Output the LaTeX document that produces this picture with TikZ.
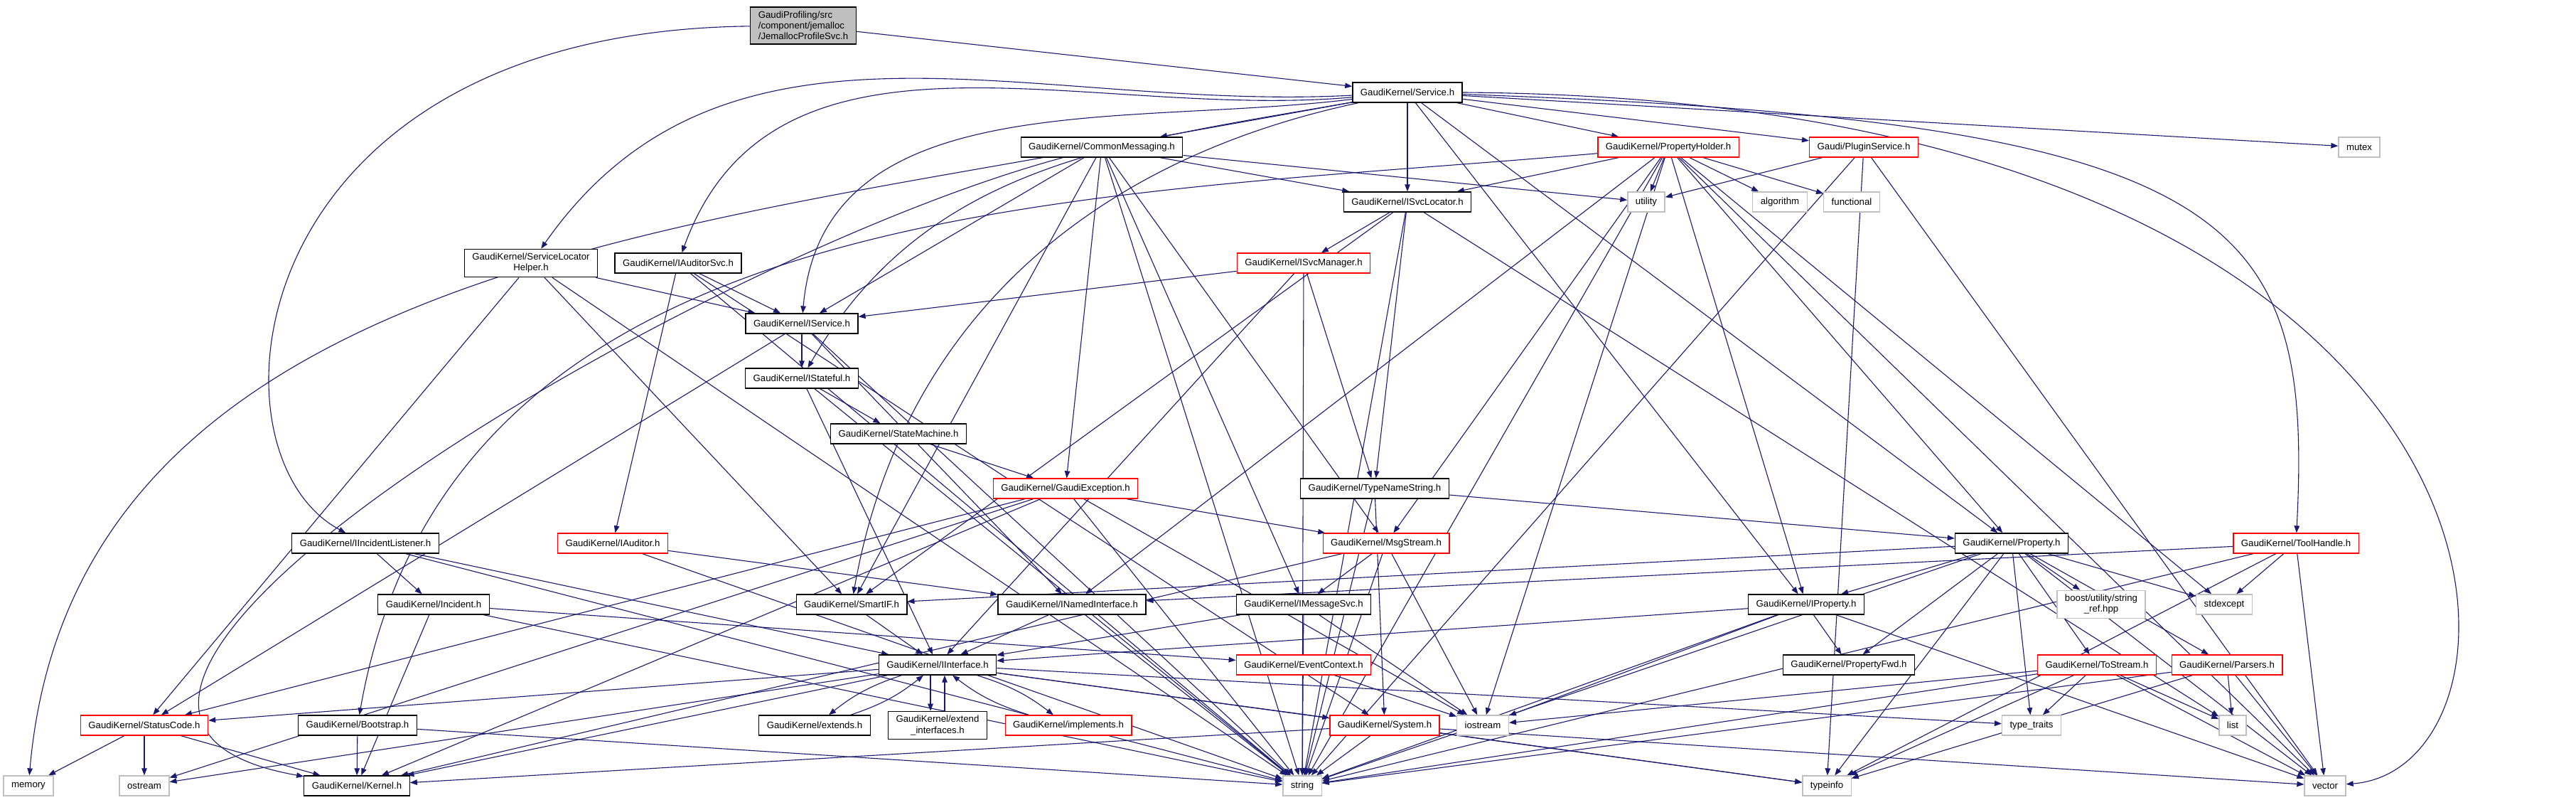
\documentclass[tikz,border=0pt]{standalone}
\usepackage{fontspec}
\setmainfont{Liberation Sans}
\usetikzlibrary{arrows.meta,backgrounds}
\newcommand{\pxlen}{0.1mm}
\definecolor{edgeblue}{HTML}{191970}
\definecolor{sysgrey}{HTML}{BFBFBF}

\begin{document}
\begin{tikzpicture}
\useasboundingbox (0,0) rectangle (3624*\pxlen,-1125*\pxlen);
\tikzstyle{every node}=[draw,
			rectangle,
			fill=white,
			font=\fontsize{3.76}{4.3}\selectfont,
			minimum height = 2.8mm,
			inner xsep = 1.1mm,
			inner ysep = 0.6mm,
			line width = 0.13mm
			]
\tikzstyle{redbox}=[draw=red]
\tikzstyle{sysbox}=[draw=sysgrey]
\tikzstyle{dep}=[edgeblue, line width=0.11mm, -{Triangle[length=1.0mm,width=0.75mm]}]

\node[fill=sysgrey, align=left] (root) at (1130*\pxlen,-36*\pxlen) {GaudiProfiling/src\\/component/jemalloc\\/JemallocProfileSvc.h};

\node (svc) at (1980*\pxlen,-130*\pxlen) {GaudiKernel/Service.h};

\node (cmsg) at (1550*\pxlen,-207*\pxlen) {GaudiKernel/CommonMessaging.h};
\node[redbox] (pholder) at (2347*\pxlen,-207*\pxlen) {GaudiKernel/PropertyHolder.h};
\node[redbox] (plugin) at (2622*\pxlen,-207*\pxlen) {Gaudi/PluginService.h};
\node[sysbox] (mutex) at (3319*\pxlen,-207*\pxlen) {mutex};

\node (isvcloc) at (1980*\pxlen,-284*\pxlen) {GaudiKernel/ISvcLocator.h};
\node[sysbox] (utility) at (2316*\pxlen,-284*\pxlen) {utility};
\node[sysbox] (algorithm) at (2504*\pxlen,-284*\pxlen) {algorithm};
\node[sysbox] (functional) at (2605*\pxlen,-284*\pxlen) {functional};

\node[align=center] (slh) at (747*\pxlen,-370*\pxlen) {GaudiKernel/ServiceLocator\\Helper.h};
\node (iaudsvc) at (954*\pxlen,-370*\pxlen) {GaudiKernel/IAuditorSvc.h};
\node[redbox] (isvcmgr) at (1834*\pxlen,-370*\pxlen) {GaudiKernel/ISvcManager.h};

\node (iservice) at (1128*\pxlen,-455*\pxlen) {GaudiKernel/IService.h};
\node (istateful) at (1128*\pxlen,-532*\pxlen) {GaudiKernel/IStateful.h};
\node (statem) at (1264*\pxlen,-610*\pxlen) {GaudiKernel/StateMachine.h};

\node[redbox] (gexc) at (1499*\pxlen,-687*\pxlen) {GaudiKernel/GaudiException.h};
\node (tns) at (1934*\pxlen,-687*\pxlen) {GaudiKernel/TypeNameString.h};

\node (incl) at (514*\pxlen,-764*\pxlen) {GaudiKernel/IIncidentListener.h};
\node[redbox] (iaud) at (862*\pxlen,-764*\pxlen) {GaudiKernel/IAuditor.h};
\node[redbox] (msgs) at (1950*\pxlen,-764*\pxlen) {GaudiKernel/MsgStream.h};
\node (prop) at (2830*\pxlen,-764*\pxlen) {GaudiKernel/Property.h};
\node[redbox] (toolh) at (3230*\pxlen,-764*\pxlen) {GaudiKernel/ToolHandle.h};

\node (incid) at (610*\pxlen,-850*\pxlen) {GaudiKernel/Incident.h};
\node (smartif) at (1198*\pxlen,-850*\pxlen) {GaudiKernel/SmartIF.h};
\node (inamed) at (1508*\pxlen,-850*\pxlen) {GaudiKernel/INamedInterface.h};
\node (imsg) at (1834*\pxlen,-850*\pxlen) {GaudiKernel/IMessageSvc.h};
\node (iprop) at (2541*\pxlen,-850*\pxlen) {GaudiKernel/IProperty.h};
\node[sysbox, align=center] (boostsr) at (2956*\pxlen,-850*\pxlen) {boost/utility/string\\\_ref.hpp};
\node[sysbox] (stdexc) at (3129*\pxlen,-850*\pxlen) {stdexcept};

\node (iintf) at (1319*\pxlen,-935*\pxlen) {GaudiKernel/IInterface.h};
\node[redbox] (evctx) at (1834*\pxlen,-935*\pxlen) {GaudiKernel/EventContext.h};
\node (propfwd) at (2601*\pxlen,-935*\pxlen) {GaudiKernel/PropertyFwd.h};
\node[redbox] (tostr) at (2950*\pxlen,-935*\pxlen) {GaudiKernel/ToStream.h};
\node[redbox] (parsers) at (3133*\pxlen,-935*\pxlen) {GaudiKernel/Parsers.h};

\node[redbox] (stcode) at (203*\pxlen,-1020*\pxlen) {GaudiKernel/StatusCode.h};
\node (boot) at (503*\pxlen,-1020*\pxlen) {GaudiKernel/Bootstrap.h};
\node (extends) at (1146*\pxlen,-1020*\pxlen) {GaudiKernel/extends.h};
\node[align=center] (extintf) at (1319*\pxlen,-1020*\pxlen) {GaudiKernel/extend\\\_interfaces.h};
\node[redbox] (impl) at (1503*\pxlen,-1020*\pxlen) {GaudiKernel/implements.h};
\node[redbox] (system) at (1948*\pxlen,-1020*\pxlen) {GaudiKernel/System.h};
\node[sysbox] (iostream) at (2086*\pxlen,-1020*\pxlen) {iostream};
\node[sysbox] (typetr) at (2858*\pxlen,-1020*\pxlen) {type\_traits};
\node[sysbox] (list) at (3141*\pxlen,-1020*\pxlen) {list};

\node[sysbox] (memory) at (40*\pxlen,-1105*\pxlen) {memory};
\node[sysbox] (ostream) at (203*\pxlen,-1105*\pxlen) {ostream};
\node (kernel) at (502*\pxlen,-1105*\pxlen) {GaudiKernel/Kernel.h};
\node[sysbox] (string) at (1832*\pxlen,-1105*\pxlen) {string};
\node[sysbox] (typeinfo) at (2570*\pxlen,-1105*\pxlen) {typeinfo};
\node[sysbox] (vector) at (3271*\pxlen,-1105*\pxlen) {vector};

\begin{scope}[on background layer]
\draw[dep] (root) -- (svc);
\draw[dep] (root) .. controls (330*\pxlen,-45*\pxlen) and (280*\pxlen,-640*\pxlen) .. (incl);

\draw[dep] (svc) -- (cmsg);
\draw[dep] (svc) -- (isvcloc);
\draw[dep] (svc) -- (pholder);
\draw[dep] (svc) -- (plugin);
\draw[dep] (svc) -- (mutex);
\draw[dep] (svc) .. controls (3150*\pxlen,-170*\pxlen) and (3254*\pxlen,-300*\pxlen) .. (toolh);
\draw[dep] (svc.east) .. controls (3600*\pxlen,-140*\pxlen) and (3600*\pxlen,-1080*\pxlen) .. (vector);
\draw[dep] (svc) -- (prop);
\draw[dep] (svc) -- (iprop);
\draw[dep] (svc) to[out=183,in=55] (slh);
\draw[dep] (svc) to[out=185,in=70] (iaudsvc);
\draw[dep] (svc) to[out=187,in=85] (iservice);
\draw[dep] (svc) to[out=190,in=60] (istateful);
\draw[dep] (svc) to[out=192,in=80] (smartif);

\draw[dep] (cmsg) -- (isvcloc);
\draw[dep] (cmsg) -- (utility);
\draw[dep] (cmsg) -- (iservice);
\draw[dep] (cmsg) -- (smartif);
\draw[dep] (cmsg) -- (gexc);
\draw[dep] (cmsg) -- (msgs);
\draw[dep] (cmsg) -- (imsg);
\draw[dep] (cmsg) to[out=190,in=85] (memory);
\draw[dep] (cmsg) to[out=195,in=170] (kernel);
\draw[dep] (cmsg) -- (string);

\draw[dep] (pholder) -- (isvcloc);
\draw[dep] (pholder) -- (utility);
\draw[dep] (pholder) -- (algorithm);
\draw[dep] (pholder) -- (functional);
\draw[dep] (pholder) -- (prop);
\draw[dep] (pholder) -- (iprop);
\draw[dep] (pholder) -- (msgs);
\draw[dep] (pholder) -- (inamed);
\draw[dep] (pholder) -- (iostream);
\draw[dep] (pholder) -- (stdexc);
\draw[dep] (pholder) -- (vector);
\draw[dep] (pholder) -- (string);
\draw[dep] (pholder) to[out=185,in=80] (boot);

\draw[dep] (plugin) -- (utility);
\draw[dep] (plugin) -- (string);
\draw[dep] (plugin) -- (typeinfo);
\draw[dep] (plugin) -- (vector);

\draw[dep] (isvcloc) -- (isvcmgr);
\draw[dep] (isvcloc) -- (tns);
\draw[dep] (isvcloc) -- (smartif);
\draw[dep] (isvcloc) -- (list);
\draw[dep] (isvcloc) -- (string);

\draw[dep] (slh) -- (iservice);
\draw[dep] (slh) -- (smartif);
\draw[dep] (slh) -- (stcode);
\draw[dep] (slh) -- (string);

\draw[dep] (iaudsvc) -- (iservice);
\draw[dep] (iaudsvc) -- (iaud);
\draw[dep] (iaudsvc) -- (string);
\draw[dep] (iaudsvc) -- (system);

\draw[dep] (isvcmgr) -- (iservice);
\draw[dep] (isvcmgr) -- (tns);
\draw[dep] (isvcmgr) -- (iintf);
\draw[dep] (isvcmgr) -- (string);

\draw[dep] (iservice) -- (istateful);
\draw[dep] (iservice) -- (inamed);
\draw[dep] (iservice) -- (stcode);
\draw[dep] (iservice) -- (string);

\draw[dep] (istateful) -- (statem);
\draw[dep] (istateful) -- (iintf);
\draw[dep] (istateful) -- (string);

\draw[dep] (statem) -- (gexc);

\draw[dep] (gexc) -- (stcode);
\draw[dep] (gexc) -- (msgs);
\draw[dep] (gexc) -- (string);
\draw[dep] (gexc) -- (iostream);
\draw[dep] (gexc) -- (ostream);
\draw[dep] (gexc) -- (kernel);

\draw[dep] (tns) -- (prop);
\draw[dep] (tns) -- (system);
\draw[dep] (tns) -- (string);

\draw[dep] (msgs) -- (imsg);
\draw[dep] (msgs) -- (kernel);
\draw[dep] (msgs) -- (string);
\draw[dep] (msgs) -- (iostream);

\draw[dep] (prop) -- (iprop);
\draw[dep] (prop) -- (propfwd);
\draw[dep] (prop) -- (boostsr);
\draw[dep] (prop) -- (stdexc);
\draw[dep] (prop) -- (tostr);
\draw[dep] (prop) -- (parsers);
\draw[dep] (prop) -- (typetr);
\draw[dep] (prop) -- (vector);
\draw[dep] (prop) -- (typeinfo);
\draw[dep] (prop) -- (string);
\draw[dep] (prop) -- (smartif);

\draw[dep] (toolh) -- (inamed);
\draw[dep] (toolh) -- (stdexc);
\draw[dep] (toolh) -- (vector);
\draw[dep] (toolh) -- (string);
\draw[dep] (toolh) -- (typeinfo);

\draw[dep] (incl) -- (incid);
\draw[dep] (incl) -- (iintf);
\draw[dep] (incl) -- (string);

\draw[dep] (iaud) -- (inamed);
\draw[dep] (iaud) -- (string);

\draw[dep] (incid) -- (kernel);
\draw[dep] (incid) -- (evctx);
\draw[dep] (incid) -- (string);

\draw[dep] (smartif) -- (iintf);
\draw[dep] (inamed) -- (iintf);
\draw[dep] (inamed) -- (string);

\draw[dep] (imsg) -- (iintf);
\draw[dep] (imsg) -- (iostream);
\draw[dep] (imsg) -- (string);

\draw[dep] (iprop) -- (iintf);
\draw[dep] (iprop) -- (propfwd);
\draw[dep] (iprop) -- (iostream);
\draw[dep] (iprop) -- (string);
\draw[dep] (iprop) -- (vector);

\draw[dep] (iintf) -- (stcode);
\draw[dep] (iintf) -- (kernel);
\draw[dep] (iintf) -- (system);
\draw[dep] (iintf) -- (ostream);
\draw[dep] (iintf) -- (typetr);
\draw[dep] (iintf) -- (typeinfo);
\draw[dep] (iintf) to[bend right=10] (extends);
\draw[dep] (extends) to[bend right=10] (iintf);
\draw[dep] ([xshift=-1mm]iintf.south) -- ([xshift=-1mm]extintf.north);
\draw[dep] ([xshift=1mm]extintf.north) -- ([xshift=1mm]iintf.south);
\draw[dep] (iintf) to[bend left=10] (impl);
\draw[dep] (impl) to[bend left=10] (iintf);

\draw[dep] (evctx) -- (iostream);

\draw[dep] (tostr) -- (typetr);
\draw[dep] (tostr) -- (list);
\draw[dep] (tostr) -- (vector);
\draw[dep] (tostr) -- (string);
\draw[dep] (tostr) -- (typeinfo);
\draw[dep] (tostr) -- (iostream);

\draw[dep] (parsers) -- (list);
\draw[dep] (parsers) -- (vector);
\draw[dep] (parsers) -- (string);
\draw[dep] (parsers) -- (typeinfo);

\draw[dep] (stcode) -- (memory);
\draw[dep] (stcode) -- (ostream);
\draw[dep] (stcode) -- (kernel);

\draw[dep] (boot) -- (kernel);
\draw[dep] (boot) -- (string);

\draw[dep] (system) -- (kernel);
\draw[dep] (system) -- (string);
\draw[dep] (system) -- (typeinfo);
\draw[dep] (system) -- (vector);
\end{scope}

\end{tikzpicture}
\end{document}
